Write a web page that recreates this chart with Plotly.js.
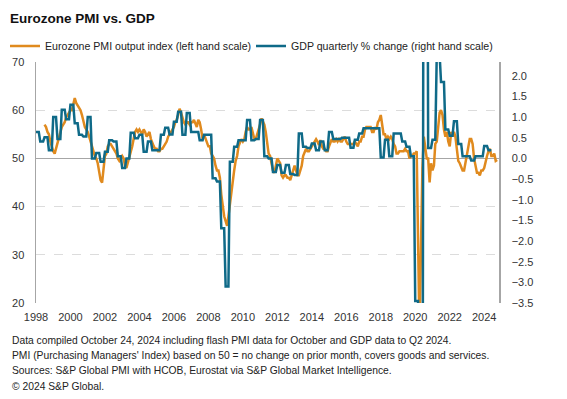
<!DOCTYPE html>
<html>
<head>
<meta charset="utf-8">
<script src="https://cdn.plot.ly/plotly-3.0.1.min.js"></script>
<style>html,body{margin:0;padding:0;background:#fff;}#chart{width:567px;height:399px;}</style>
</head>
<body>
<div id="chart"></div>
<script>
// ---- Data ----
const pmiStart = "1998-07";   // first month of PMI series
const pmiValues = [
  57.0, 56.5, 55.5, 55.0, 53.5, 52.5,
  51.5, 51.0, 52.0, 53.0, 54.0, 55.5, 56.5, 57.0, 57.5, 58.5, 59.0, 59.5,
  60.0, 60.0, 61.0, 62.5, 61.5, 61.0, 60.5, 60.0, 59.0, 57.5, 56.5, 56.0,
  55.5, 54.5, 53.5, 52.0, 51.5, 50.5, 50.0, 49.0, 47.0, 45.5, 45.0, 48.0,
  50.5, 51.0, 52.5, 53.0, 53.0, 52.5, 52.0, 51.5, 51.0, 50.0, 49.5, 50.0,
  50.5, 50.0, 48.5, 48.0, 49.0, 50.0, 51.0, 52.5, 54.0, 55.5, 56.0, 55.5,
  56.0, 55.5, 55.0, 56.0, 55.5, 54.5, 55.0, 55.5, 54.0, 53.0, 52.5, 52.0,
  52.0, 51.5, 51.5, 52.0, 52.0, 52.5, 53.0, 53.5, 54.5, 55.0, 55.5, 56.0,
  56.5, 57.5, 58.0, 59.0, 60.3, 59.5, 58.5, 57.5, 57.0, 57.5, 57.5, 57.0,
  57.5, 57.5, 58.0, 57.0, 56.5, 58.0, 57.5, 56.0, 54.0, 55.0, 54.0, 53.0,
  52.5, 52.5, 51.0, 50.5, 50.0, 48.5, 47.5, 47.5, 46.0, 42.5, 40.0, 38.0,
  37.0, 36.0, 38.0, 40.5, 43.5, 45.0, 47.5, 49.5, 50.5, 52.5, 53.5, 54.0,
  53.5, 54.0, 55.5, 56.5, 56.0, 56.0, 56.5, 55.5, 54.0, 54.0, 55.0, 55.5,
  57.0, 58.3, 57.5, 57.0, 55.5, 53.5, 51.0, 50.5, 49.0, 47.5, 47.0, 48.5,
  50.0, 49.5, 49.0, 46.5, 46.0, 46.5, 46.5, 46.0, 46.0, 45.5, 46.5, 47.0,
  48.5, 47.5, 46.5, 46.5, 47.5, 48.5, 50.5, 51.5, 52.0, 51.5, 51.5, 52.0,
  52.5, 53.0, 53.5, 54.0, 53.5, 52.8, 53.8, 52.5, 52.0, 52.0, 51.5, 51.5,
  52.5, 53.5, 54.0, 53.5, 53.5, 54.0, 53.5, 54.0, 53.5, 53.5, 54.0, 54.5,
  53.5, 53.0, 53.0, 53.0, 53.0, 53.0, 53.5, 53.0, 52.5, 53.5, 53.5, 54.5,
  54.5, 56.0, 56.5, 56.5, 56.5, 56.5, 55.5, 55.5, 56.5, 56.0, 57.5, 58.0,
  59.0, 57.0, 55.0, 55.0, 54.0, 54.5, 54.0, 54.5, 54.0, 53.0, 52.5, 51.0,
  51.0, 51.5, 51.5, 51.5, 51.5, 52.0, 51.5, 51.5, 50.0, 50.5, 50.5, 51.0,
  51.0, 51.5, 29.5, 13.5, 31.0, 48.0, 54.5, 51.5, 50.0, 50.0, 45.0, 49.0,
  47.5, 48.5, 53.0, 53.5, 57.0, 59.5, 60.0, 59.0, 56.0, 54.5, 55.5, 53.5,
  52.5, 55.5, 54.5, 55.5, 54.5, 52.0, 49.5, 49.0, 48.0, 47.5, 47.5, 49.0,
  50.5, 52.0, 54.0, 54.0, 53.0, 50.0, 48.5, 47.0, 47.0, 46.5, 47.5, 47.5,
  48.0, 49.5, 50.5, 51.5, 52.0, 50.5, 50.5, 51.0, 49.5, 49.7
];

const gdpStart = "1998-01";   // first quarter (1998 Q1)
const gdpValues = [
  0.64, 0.41, 0.51, 0.20,
  1.00, 0.47, 1.18, 0.95,
  1.30, 0.85, 0.57, 0.53,
  1.00, 0.00, 0.13, -0.08,
  0.16, 0.44, 0.41, 0.05,
  -0.23, 0.00, 0.62, 0.49,
  0.57, 0.16, 0.41, 0.20,
  0.20, 0.57, 0.74, 0.58,
  0.89, 1.13, 0.57, 1.10,
  0.64, 0.64, 0.44, 0.57,
  0.57, -0.48, -0.56, -1.69,
  -3.10, -0.08, 0.28, 0.44,
  0.44, 0.93, 0.44, 0.47,
  0.93, 0.05, 0.00, -0.33,
  -0.16, -0.35, -0.16, -0.38,
  -0.40, 0.60, 0.28, 0.25,
  0.36, 0.20, 0.41, 0.20,
  0.64, 0.47, 0.47, 0.50,
  0.50, 0.26, 0.45, 0.60,
  0.73, 0.73, 0.73, 0.73,
  0.02, 0.45, 0.05, 0.60,
  0.60, 0.41, 0.28, 0.05,
  -3.45, -11.40, 12.40, 0.25,
  0.45, 2.50, 1.85, 0.70,
  0.55, 0.90, 0.35, 0.05,
  0.05, -0.05, 0.05, 0.05,
  0.30, 0.20
];

const seriesNames = [
  "Eurozone PMI output index (left hand scale)",
  "GDP quarterly % change (right hand scale)"
];
const chartTitle = "Eurozone PMI vs. GDP";
const footerLines = [
  "Data compiled October 24, 2024 including flash PMI data for October and GDP data to Q2 2024.",
  "PMI (Purchasing Managers' Index) based on 50 = no change on prior month, covers goods and services.",
  "Sources: S&P Global PMI with HCOB, Eurostat via S&P Global Market Intelligence.",
  "\u00a9 2024 S&P Global."
];

// ---- helpers ----
function monthStr(start, offset) {
  const [y, m] = start.split("-").map(Number);
  const t = (m - 1) + offset;
  const yy = y + Math.floor(t / 12);
  const mm = (t % 12) + 1;
  return yy + "-" + String(mm).padStart(2, "0") + "-01";
}
const pmiX = pmiValues.map((_, i) => monthStr(pmiStart, i));
// GDP quarterly value shown for each month of its quarter
const gdpX = [], gdpY = [];
gdpValues.forEach((v, q) => {
  for (let k = 0; k < 3; k++) { gdpX.push(monthStr(gdpStart, q * 3 + k)); gdpY.push(v); }
});

const FONT = "Liberation Sans, Arial, Helvetica, sans-serif";
const W = 567, H = 399;
const L = 36, R = 68, T = 62, B = 96;
const pw = W - L - R, ph = H - T - B;
const px2x = p => (p - L) / pw;
const py2y = p => (H - B - p) / ph;

const traces = [
  { x: pmiX, y: pmiValues, name: seriesNames[0], type: "scatter", mode: "lines",
    line: { color: "#e08a1e", width: 2.5 }, yaxis: "y", legend: "legend" },
  { x: gdpX, y: gdpY, name: seriesNames[1], type: "scatter", mode: "lines",
    line: { color: "#0f6a88", width: 2.5 }, yaxis: "y2", legend: "legend2" }
];

const annotations = footerLines.map((t, i) => ({
  text: t, xref: "paper", yref: "paper", x: px2x(10), y: py2y(340 + i * 15.4),
  xanchor: "left", yanchor: "middle", showarrow: false, align: "left",
  font: { family: FONT, size: 10.3, color: "#222" }
}));

const legendCommon = {
  orientation: "h", yanchor: "middle", y: py2y(46), xanchor: "left",
  font: { family: FONT, size: 10.6, color: "#222" }, bgcolor: "rgba(0,0,0,0)", itemwidth: 30
};

const layout = {
  width: W, height: H,
  margin: { l: L, r: R, t: T, b: B, autoexpand: false },
  paper_bgcolor: "#fff", plot_bgcolor: "#fff",
  title: { text: "<b>" + chartTitle + "</b>", x: 10 / W, xanchor: "left", xref: "container",
           y: 1 - 18 / H, yanchor: "middle", yref: "container",
           font: { family: FONT, size: 13.5, color: "#111" } },
  showlegend: true,
  legend: Object.assign({}, legendCommon, { x: px2x(5) }),
  legend2: Object.assign({}, legendCommon, { x: px2x(251) }),
  xaxis: { type: "date", range: ["1998-01-01", "2024-11-10"], tick0: "1998-01-01", dtick: "M24",
           tickformat: "%Y", showgrid: false, zeroline: false, showline: false, ticks: "",
           ticklabelstandoff: 6,
           tickfont: { family: FONT, size: 11, color: "#333" } },
  yaxis: { range: [20, 70], dtick: 10, tick0: 20, showgrid: true, gridcolor: "#dcdcdc",
           griddash: "dash", gridwidth: 1, zeroline: false, showline: true, linecolor: "#a6a6a6",
           linewidth: 1.5, ticks: "", ticklabelstandoff: 8,
           tickfont: { family: FONT, size: 11, color: "#333" } },
  yaxis2: { overlaying: "y", side: "right", range: [-3.5, 7 / 3], tick0: -3.5, dtick: 0.5,
            tickformat: ".1f", showgrid: false, zeroline: true, zerolinecolor: "#a6a6a6",
            zerolinewidth: 1.2, showline: true, linecolor: "#a6a6a6", linewidth: 1.5,
            ticks: "", ticklabelstandoff: 9,
            tickfont: { family: FONT, size: 11, color: "#333" } },
  annotations: annotations
};

Plotly.newPlot("chart", traces, layout, { displayModeBar: false, staticPlot: true });
</script>
</body>
</html>
